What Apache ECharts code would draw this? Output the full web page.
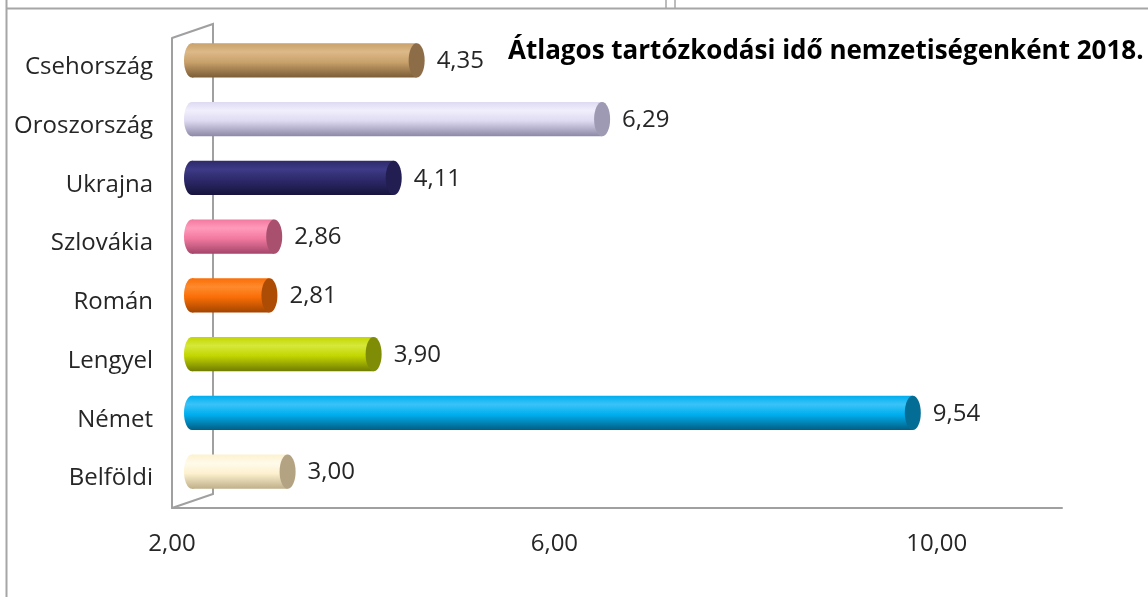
<!DOCTYPE html>
<html>
<head>
    <meta charset="utf-8">
    <script src="https://cdn.jsdelivr.net/npm/echarts@6/dist/echarts.min.js"></script>
    <style>
        html, body { margin: 0; padding: 0; background: #fff; }
    </style>
</head>
<body>
<div id="main" style="width: 1148px;height:597px;"></div>
<script type="text/javascript">
    // adatok
    const categories = ['Csehország', 'Oroszország', 'Ukrajna', 'Szlovákia', 'Román', 'Lengyel', 'Német', 'Belföldi'];
    const values = [4.35, 6.29, 4.11, 2.86, 2.81, 3.90, 9.54, 3.00];
    const xTicks = [2, 6, 10];
    const titleText = 'Átlagos tartózkodási idő nemzetiségenként 2018.';

    // hengerek színei: [világos, alap, sötét, fedőlap]
    const palette = [
        ['#dcb988', '#c9a16b', '#7c5d36', '#8c6d47'],
        ['#f1effc', '#dedaf2', '#8d89a6', '#9e9ab3'],
        ['#3e3a86', '#2e2a6b', '#17143d', '#221e52'],
        ['#ff9abb', '#f27aa0', '#a4466a', '#a9506f'],
        ['#ff8a2e', '#fa6e06', '#a34500', '#ad4c04'],
        ['#d6e83a', '#c3d600', '#717d00', '#7f8c05'],
        ['#39c3f7', '#00aeef', '#005f84', '#036d96'],
        ['#fffaea', '#fdf1cf', '#c0b08a', '#b3a383']
    ];

    const GRID = {left: 172, top: 38, right: 86, bottom: 89};
    const DEPTH_X = 20, DEPTH_Y = -7;   // 3D eltolás a bordák közepére
    const BACK_X = 41, BACK_Y = -14;    // hátsó fal
    const FONT = '"Open Sans", "Noto Sans", sans-serif';
    const FS = 24;
    const fmt = v => v.toFixed(2).replace('.', ',');

    const myChart = echarts.init(document.getElementById('main'));

    function renderCylinder(params, api) {
        const v = api.value(0);
        const i = api.value(1);
        const start = api.coord([xTicks[0], i]);
        const end = api.coord([v, i]);
        const band = api.size([0, 1])[1];
        const h = band * 0.58;
        const ry = h / 2, rx = 8;
        const x0 = start[0] + DEPTH_X;
        const x1 = end[0] + DEPTH_X;
        const cy = start[1] + DEPTH_Y;
        const c = palette[i];
        const body = new echarts.graphic.LinearGradient(0, 0, 0, 1, [
            {offset: 0, color: c[1]},
            {offset: 0.25, color: c[0]},
            {offset: 0.55, color: c[1]},
            {offset: 1, color: c[2]}
        ]);
        return {
            type: 'group',
            children: [
                {type: 'ellipse', shape: {cx: x0, cy: cy, rx: rx, ry: ry}, style: {fill: body}},
                {type: 'rect', shape: {x: x0, y: cy - ry, width: x1 - x0, height: h}, style: {fill: body}},
                {type: 'ellipse', shape: {cx: x1, cy: cy, rx: rx, ry: ry}, style: {fill: c[3]}},
                {
                    type: 'text',
                    style: {
                        x: x1 + rx + 12, y: cy + 1, text: fmt(v),
                        fill: '#262626', font: FS + 'px ' + FONT,
                        align: 'left', verticalAlign: 'middle'
                    }
                }
            ]
        };
    }

    const gl = GRID.left, gt = GRID.top, gb = 597 - GRID.bottom;

    const option = {
        backgroundColor: '#fff',
        animation: false,
        grid: GRID,
        xAxis: {
            type: 'value',
            min: 2,
            max: 11.31,
            interval: 4,
            axisLine: {show: true, lineStyle: {color: '#a0a0a0', width: 2}},
            axisTick: {show: false},
            splitLine: {show: false},
            axisLabel: {
                color: '#262626', fontSize: FS, fontFamily: FONT, margin: 24,
                showMaxLabel: false,
                formatter: v => fmt(v)
            }
        },
        yAxis: {
            type: 'category',
            data: categories,
            inverse: true,
            axisLine: {show: true, lineStyle: {color: '#a0a0a0', width: 2}},
            axisTick: {show: false},
            axisLabel: {color: '#262626', fontSize: FS, fontFamily: FONT, margin: 19, padding: [4, 0, 0, 0]}
        },
        title: {
            text: titleText,
            left: 503,
            top: 34,
            textStyle: {fontSize: 26, fontWeight: 'bold', color: '#000', fontFamily: FONT}
        },
        graphic: [
            // keret
            {type: 'line', shape: {x1: 6.5, y1: 0, x2: 6.5, y2: 597}, style: {stroke: '#a6a6a6', lineWidth: 2}},
            {type: 'line', shape: {x1: 6, y1: 8.5, x2: 1148, y2: 8.5}, style: {stroke: '#a6a6a6', lineWidth: 2}},
            {type: 'line', shape: {x1: 666, y1: 0, x2: 666, y2: 8}, style: {stroke: '#a6a6a6', lineWidth: 1.5}},
            {type: 'line', shape: {x1: 675, y1: 0, x2: 675, y2: 8}, style: {stroke: '#a6a6a6', lineWidth: 1.5}},
            // oldalfal
            {
                type: 'polyline',
                shape: {points: [[gl, gb], [gl + BACK_X, gb + BACK_Y], [gl + BACK_X, gt + BACK_Y], [gl, gt]]},
                style: {stroke: '#a0a0a0', lineWidth: 2, fill: null}
            }
        ],
        series: [{
            type: 'custom',
            renderItem: renderCylinder,
            encode: {x: 0, y: 1},
            data: values.map((v, i) => [v, i])
        }]
    };

    myChart.setOption(option);
</script>
</body>
</html>
